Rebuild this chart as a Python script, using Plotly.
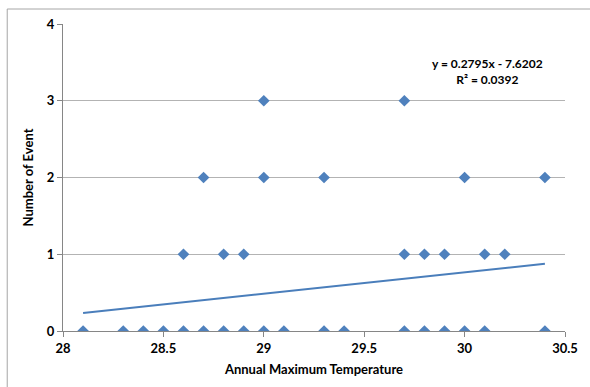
import plotly.graph_objects as go

# Data
temp_0 = [28.1, 28.3, 28.4, 28.5, 28.6, 28.7, 28.8, 28.9, 29.0, 29.1, 29.3, 29.4,
          29.7, 29.8, 29.9, 30.0, 30.1, 30.4]
temp_1 = [28.6, 28.8, 28.9, 29.7, 29.8, 29.9, 30.1, 30.2]
temp_2 = [28.7, 29.0, 29.3, 30.0, 30.4]
temp_3 = [29.0, 29.7]

temps = temp_0 + temp_1 + temp_2 + temp_3
events = [0] * len(temp_0) + [1] * len(temp_1) + [2] * len(temp_2) + [3] * len(temp_3)

slope = 0.2795
intercept = -7.6202
r2 = 0.0392
trend_x = [min(temps), max(temps)]
trend_y = [slope * x + intercept for x in trend_x]

x_ticks = [28, 28.5, 29, 29.5, 30, 30.5]
y_ticks = [0, 1, 2, 3, 4]

FONT = "Lato"
fig = go.Figure()
fig.add_trace(go.Scatter(
    x=trend_x, y=trend_y, mode="lines",
    line=dict(color="#4a7ebb", width=2), showlegend=False, hoverinfo="skip"))
fig.add_trace(go.Scatter(
    x=temps, y=events, mode="markers",
    marker=dict(symbol="diamond", size=9, color="#4f81bd"),
    showlegend=False))

W, H = 590, 387
L, R, T, B = 63, 23, 24, 56
pw, ph = W - L - R, H - T - B

def px_to_paper(px, py):
    return (px - L) / pw, (H - B - py) / ph

x0, y0 = px_to_paper(7, 400)
x1, y1 = px_to_paper(600, 9)
fig.add_shape(type="path", xref="paper", yref="paper",
              path=f"M {x0} {y0} L {x0} {y1} L {x1} {y1}",
              line=dict(color="#a6a6a6", width=1))

ax, ay = px_to_paper(489, 72)
fig.add_annotation(xref="paper", yref="paper", x=ax, y=ay, showarrow=False,
                   xanchor="center", yanchor="middle",
                   text=f"y = {slope}x - {abs(intercept)}<br>R² = {r2}",
                   font=dict(family=FONT, size=12, color="#000000", weight="bold"),
                   align="center")

fig.update_layout(
    width=W, height=H,
    margin=dict(l=L, r=R, t=T, b=B),
    paper_bgcolor="white", plot_bgcolor="white",
    font=dict(family=FONT, size=13, color="#000000"),
    xaxis=dict(range=[28, 30.5], tickvals=x_ticks, ticktext=[str(v) for v in x_ticks],
               showgrid=False, zeroline=False, showline=True, linecolor="#868686",
               linewidth=1, ticks="outside", ticklen=5, tickcolor="#868686",
               tickfont=dict(family=FONT, size=13, weight="bold"),
               title=dict(text="Annual Maximum Temperature",
                          font=dict(family=FONT, size=13, weight="bold"), standoff=10)),
    yaxis=dict(range=[0, 4], tickvals=y_ticks, showgrid=True, gridcolor="#b3b3b3",
               gridwidth=1, zeroline=False, showline=True, linecolor="#868686",
               linewidth=1, ticks="outside", ticklen=5, tickcolor="#868686",
               tickfont=dict(family=FONT, size=13, weight="bold"),
               title=dict(text="Number of Event",
                          font=dict(family=FONT, size=13, weight="bold"), standoff=10)),
)

fig.write_html("out.html")
